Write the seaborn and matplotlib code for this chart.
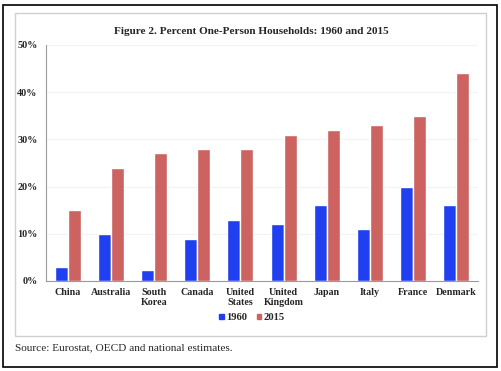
import pandas as pd
import matplotlib
matplotlib.use('Agg')
import matplotlib.pyplot as plt
import seaborn as sns
from matplotlib.patches import Rectangle
from matplotlib.ticker import FuncFormatter, FixedLocator

# values (percent)
countries = ['China', 'Australia', 'South\nKorea', 'Canada', 'United\nStates',
             'United\nKingdom', 'Japan', 'Italy', 'France', 'Denmark']
pct_1960 = [3, 10, 2.3, 9, 13, 12, 16, 11, 20, 16]
pct_2015 = [15, 24, 27.2, 28, 28, 31, 32, 33, 35, 44]
years = ['1960', '2015']
colors = ['#1f3ff0', '#cc6361']

df = pd.DataFrame({'Country': countries * 2,
                   'Year': [years[0]] * len(countries) + [years[1]] * len(countries),
                   'Pct': pct_1960 + pct_2015})

sns.set_style('white')
plt.rcParams['font.family'] = ['Liberation Serif', 'DejaVu Serif']

fig = plt.figure(figsize=(5.01, 3.71), dpi=100)
W, H = 501, 371

# outer black frame and inner grey chart box
fig.patches.append(Rectangle((3 / W, 1 - 367 / H), 494 / W, 362 / H, transform=fig.transFigure,
                             fill=False, edgecolor='black', linewidth=1.2))
fig.patches.append(Rectangle((15 / W, 1 - 336 / H), 471 / W, 323 / H, transform=fig.transFigure,
                             fill=False, edgecolor='#d0d0d0', linewidth=1.0))

ax = fig.add_axes([46 / W, 1 - 281 / H, 432 / W, 236 / H])
sns.barplot(data=df, x='Country', y='Pct', hue='Year', palette=colors,
            width=0.6, gap=0, saturation=1, ax=ax, legend=False)

ax.set_ylim(0, 50)
ax.set_xlim(-0.5, len(countries) - 0.5)
ax.set_yticks(range(0, 51, 10))
ax.yaxis.set_major_formatter(FuncFormatter(lambda v, p: f'{int(v)}%'))
ax.grid(axis='y', color='#f2f2f2', linewidth=0.8)
ax.set_axisbelow(True)
ax.set_xlabel('')
ax.set_ylabel('')

for s in ['top', 'right']:
    ax.spines[s].set_visible(False)
for s in ['left', 'bottom']:
    ax.spines[s].set_color('#9a9a9a')
    ax.spines[s].set_linewidth(0.8)

# category separators on the x axis
ax.tick_params(axis='x', which='major', length=0, pad=5)
ax.xaxis.set_minor_locator(FixedLocator([i + 0.5 for i in range(-1, len(countries))]))
ax.tick_params(axis='x', which='minor', length=3, color='#9a9a9a', width=0.8)
ax.tick_params(axis='y', length=3, color='#9a9a9a', width=0.8, pad=3)

for lab in ax.get_xticklabels():
    lab.set_fontweight('bold')
    lab.set_fontsize(7.2)
    lab.set_linespacing(1.15)
for lab in ax.get_yticklabels():
    lab.set_fontweight('bold')
    lab.set_fontsize(7.3)

fig.text(251 / W, 1 - 32 / H, 'Figure 2. Percent One-Person Households: 1960 and 2015',
         ha='center', va='center', fontsize=8.1, fontweight='bold')

handles = [Rectangle((0, 0), 1, 1, color=c) for c in colors]
fig.legend(handles, years, loc='center', bbox_to_anchor=(252 / W, 1 - 318 / H), ncol=2,
           frameon=False, handlelength=0.4, handleheight=0.4, handletextpad=0.25,
           columnspacing=0.9, prop={'weight': 'bold', 'size': 7.6})

fig.text(15 / W, 1 - 348 / H, 'Source: Eurostat, OECD and national estimates.',
         ha='left', va='center', fontsize=8.1)

fig.savefig('out.png', dpi=100)
